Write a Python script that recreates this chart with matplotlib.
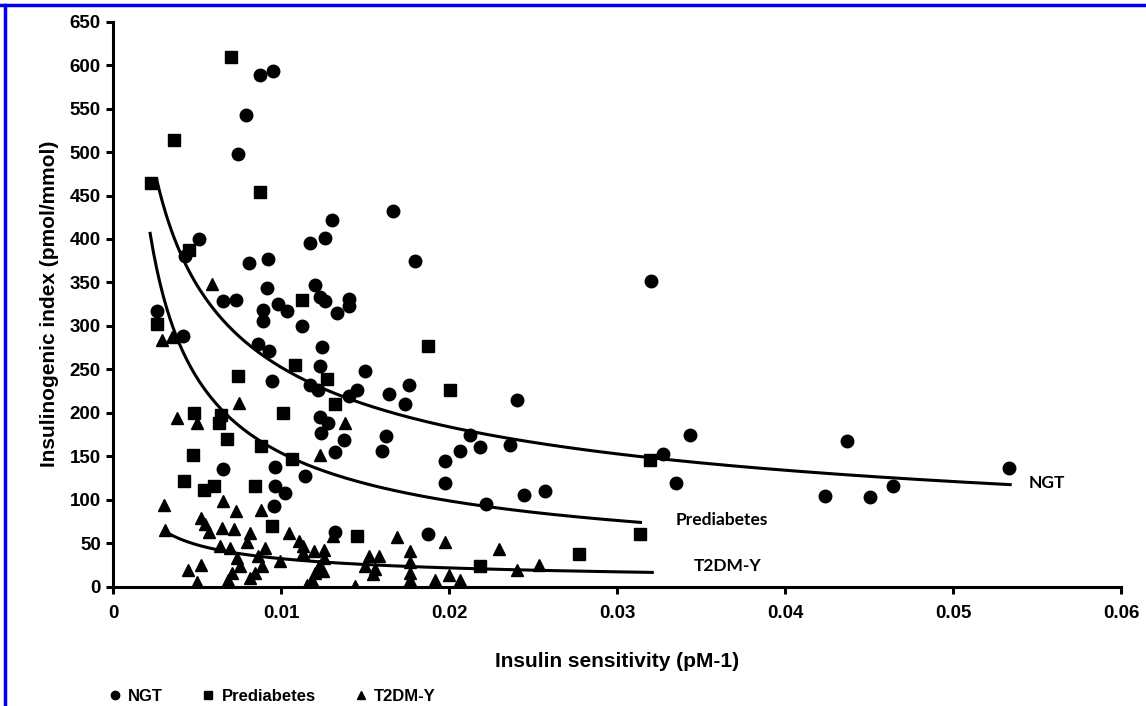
import numpy as np
import matplotlib
matplotlib.use("Agg")
import matplotlib.pyplot as plt
from matplotlib.lines import Line2D

# ------------------------------------------------------------------ #
#  DONNEES                                        #
# ------------------------------------------------------------------ #
NGT_X = [0.00874, 0.00950, 0.00791, 0.00741, 0.01663, 0.01303, 0.01262, 0.01168,
         0.00511, 0.00427, 0.00809, 0.00920, 0.00912, 0.00652, 0.00729, 0.00890,
         0.00890, 0.00262, 0.00414, 0.00861, 0.00928, 0.00944, 0.01798, 0.01202,
         0.01228, 0.01262, 0.01405, 0.01405, 0.00983, 0.01033, 0.01331, 0.01123,
         0.01242, 0.01232, 0.01500, 0.01172, 0.01218, 0.01758, 0.01451, 0.01401,
         0.01639, 0.01734, 0.01232, 0.01278, 0.01238, 0.01371, 0.01623, 0.01601,
         0.01321, 0.00964, 0.01142, 0.00964, 0.01023, 0.00954, 0.01321, 0.00652,
         0.03204, 0.02404, 0.03433, 0.02122, 0.02185, 0.02364, 0.02066, 0.01977,
         0.01977, 0.02444, 0.02573, 0.02221, 0.03274, 0.03353, 0.01871, 0.04367,
         0.04236, 0.04504, 0.04645, 0.05334]
NGT_Y = [588.2, 593.6, 542.2, 497.8, 432.6, 422.2, 401.5, 395.4,
         400.0, 380.0, 372.4, 377.4, 343.2, 329.0, 329.8, 317.9,
         305.2, 317.5, 288.0, 279.2, 271.5, 236.2, 374.3, 347.4,
         332.8, 329.0, 331.3, 322.5, 325.2, 316.7, 314.9, 299.5,
         275.8, 254.3, 247.7, 232.4, 226.6, 232.4, 226.6, 218.9,
         222.0, 210.5, 195.2, 188.3, 176.8, 169.1, 172.9, 155.7,
         154.5, 137.7, 127.7, 115.4, 107.8, 93.2, 62.5, 135.4,
         352.0, 215.1, 174.9, 174.9, 161.1, 162.8, 155.7, 145.0,
         119.3, 105.8, 110.4, 95.5, 152.4, 119.3, 60.6, 167.2,
         103.9, 102.7, 116.2, 136.6]

PRE_X = [0.00701, 0.00362, 0.00223, 0.00874, 0.00451, 0.00262, 0.00741, 0.00481,
         0.00642, 0.01123, 0.01083, 0.01272, 0.01321, 0.01013, 0.00632, 0.00679,
         0.00477, 0.00880, 0.00421, 0.00541, 0.00602, 0.00845, 0.01063, 0.00942,
         0.01451, 0.01871, 0.02002, 0.03198, 0.02181, 0.02771, 0.03135]
PRE_Y = [609.4, 514.3, 464.8, 453.6, 387.7, 302.6, 241.9, 199.8,
         197.9, 329.4, 254.6, 239.0, 210.5, 199.8, 188.3, 170.3,
         151.9, 162.2, 121.1, 111.6, 115.4, 116.2, 146.9, 69.8,
         58.7, 277.3, 225.8, 146.1, 23.4, 37.6, 60.6]

T2D_X = [0.00590, 0.00292, 0.00348, 0.00751, 0.00378, 0.00497, 0.00300, 0.00651,
         0.00728, 0.00880, 0.00520, 0.00544, 0.00570, 0.00648, 0.00721, 0.00306,
         0.00812, 0.00795, 0.00634, 0.00696, 0.00904, 0.00735, 0.00755, 0.00706,
         0.00685, 0.00864, 0.00884, 0.00845, 0.00815, 0.00444, 0.00521, 0.00497,
         0.01381, 0.01232, 0.01048, 0.01309, 0.01691, 0.01107, 0.01128, 0.01132,
         0.01192, 0.01254, 0.01257, 0.00993, 0.01222, 0.01202, 0.01251, 0.01182,
         0.01153, 0.01440, 0.01520, 0.01579, 0.01560, 0.01549, 0.01500, 0.01768,
         0.01768, 0.01768, 0.01973, 0.02294, 0.02533, 0.02404, 0.01768, 0.01917,
         0.01996, 0.02066]
T2D_Y = [348.6, 283.4, 287.3, 211.3, 194.4, 188.3, 94.3, 98.1,
         87.4, 88.6, 79.0, 71.9, 62.7, 67.5, 65.9, 65.6,
         61.3, 51.2, 46.4, 44.5, 44.5, 33.0, 23.4, 15.8,
         8.1, 34.9, 23.4, 15.8, 10.0, 19.6, 25.3, 5.2,
         188.1, 151.9, 61.3, 58.7, 56.7, 52.1, 46.4, 38.8,
         40.6, 42.6, 33.0, 29.1, 23.4, 15.8, 17.6, 8.1,
         2.3, 1.2, 34.9, 34.9, 20.7, 15.0, 23.4, 40.6,
         28.2, 15.8, 51.0, 43.4, 24.5, 19.6, 8.1, 8.1,
         13.8, 8.1]

# courbes de tendance (puissance y = a * x^b) : a, b, x debut, x fin
TREND_NAMES = ["NGT", "Prediabetes", "T2DM-Y"]
TREND_A = [30.80, 8.076, 2.2595]
TREND_B = [-0.4567, -0.6399, -0.5771]
TREND_X0 = [0.00259, 0.00219, 0.00308]
TREND_X1 = [0.05340, 0.03139, 0.03209]
# position des etiquettes de courbe (x gauche, y centre)
LABEL_X = [0.0545, 0.03347, 0.03457]
LABEL_Y = [119, 77, 23.4]

X_TICKS = [0, 0.01, 0.02, 0.03, 0.04, 0.05, 0.06]
X_TICK_LABELS = ["0", "0.01", "0.02", "0.03", "0.04", "0.05", "0.06"]
Y_TICKS = list(range(0, 651, 50))

# ------------------------------------------------------------------ #
#  FIGURE                                                              #
# ------------------------------------------------------------------ #
plt.rcParams["font.family"] = ["Liberation Sans", "DejaVu Sans"]
plt.rcParams["font.weight"] = "bold"

fig = plt.figure(figsize=(11.46, 7.06), dpi=100)
ax = fig.add_axes([0.0989, 0.169, 0.8793, 0.8003])

ax.plot(NGT_X, NGT_Y, "o", color="black", ms=9, ls="none")
ax.plot(PRE_X, PRE_Y, "s", color="black", ms=8.5, ls="none")
ax.plot(T2D_X, T2D_Y, "^", color="black", ms=9, ls="none")

for i, name in enumerate(TREND_NAMES):
    xs = np.linspace(TREND_X0[i], TREND_X1[i], 300)
    ax.plot(xs, TREND_A[i] * xs ** TREND_B[i], color="black", lw=2.2)
    ax.text(LABEL_X[i], LABEL_Y[i], name, family="Lato", fontweight="bold",
            fontsize=12.5, ha="left", va="center")

ax.set_xlim(0, 0.06)
ax.set_ylim(0, 650)
ax.set_xticks(X_TICKS)
ax.set_xticklabels(X_TICK_LABELS)
ax.set_yticks(Y_TICKS)
ax.tick_params(axis="both", direction="out", length=5, width=2.2, labelsize=13.5)
ax.tick_params(axis="x", pad=8)
ax.tick_params(axis="y", pad=4)
for lab in ax.get_xticklabels() + ax.get_yticklabels():
    lab.set_fontweight("bold")
ax.spines[["top", "right"]].set_visible(False)
ax.spines[["left", "bottom"]].set_linewidth(2.2)

ax.set_xlabel("Insulin sensitivity (pM-1)", fontsize=15, fontweight="bold", labelpad=22)
ax.set_ylabel("Insulinogenic index (pmol/mmol)", fontsize=15, fontweight="bold", labelpad=8)

handles = [Line2D([], [], marker=m, color="black", ls="none", ms=6) for m in ["o", "s", "^"]]
fig.legend(handles, TREND_NAMES, loc="center left", bbox_to_anchor=(0.08, 0.013),
           ncol=3, frameon=False, prop={"weight": "bold", "size": 12},
           handletextpad=0.3, columnspacing=2.2, handlelength=1.0)

# bord bleu (haut et gauche)
fig.add_artist(Line2D([0, 1], [0.993, 0.993], transform=fig.transFigure, color="#0000ee", lw=2.5))
fig.add_artist(Line2D([0.0044, 0.0044], [0, 0.993], transform=fig.transFigure, color="#0000ee", lw=2.5))

fig.savefig("out.png", dpi=100, facecolor="white")
